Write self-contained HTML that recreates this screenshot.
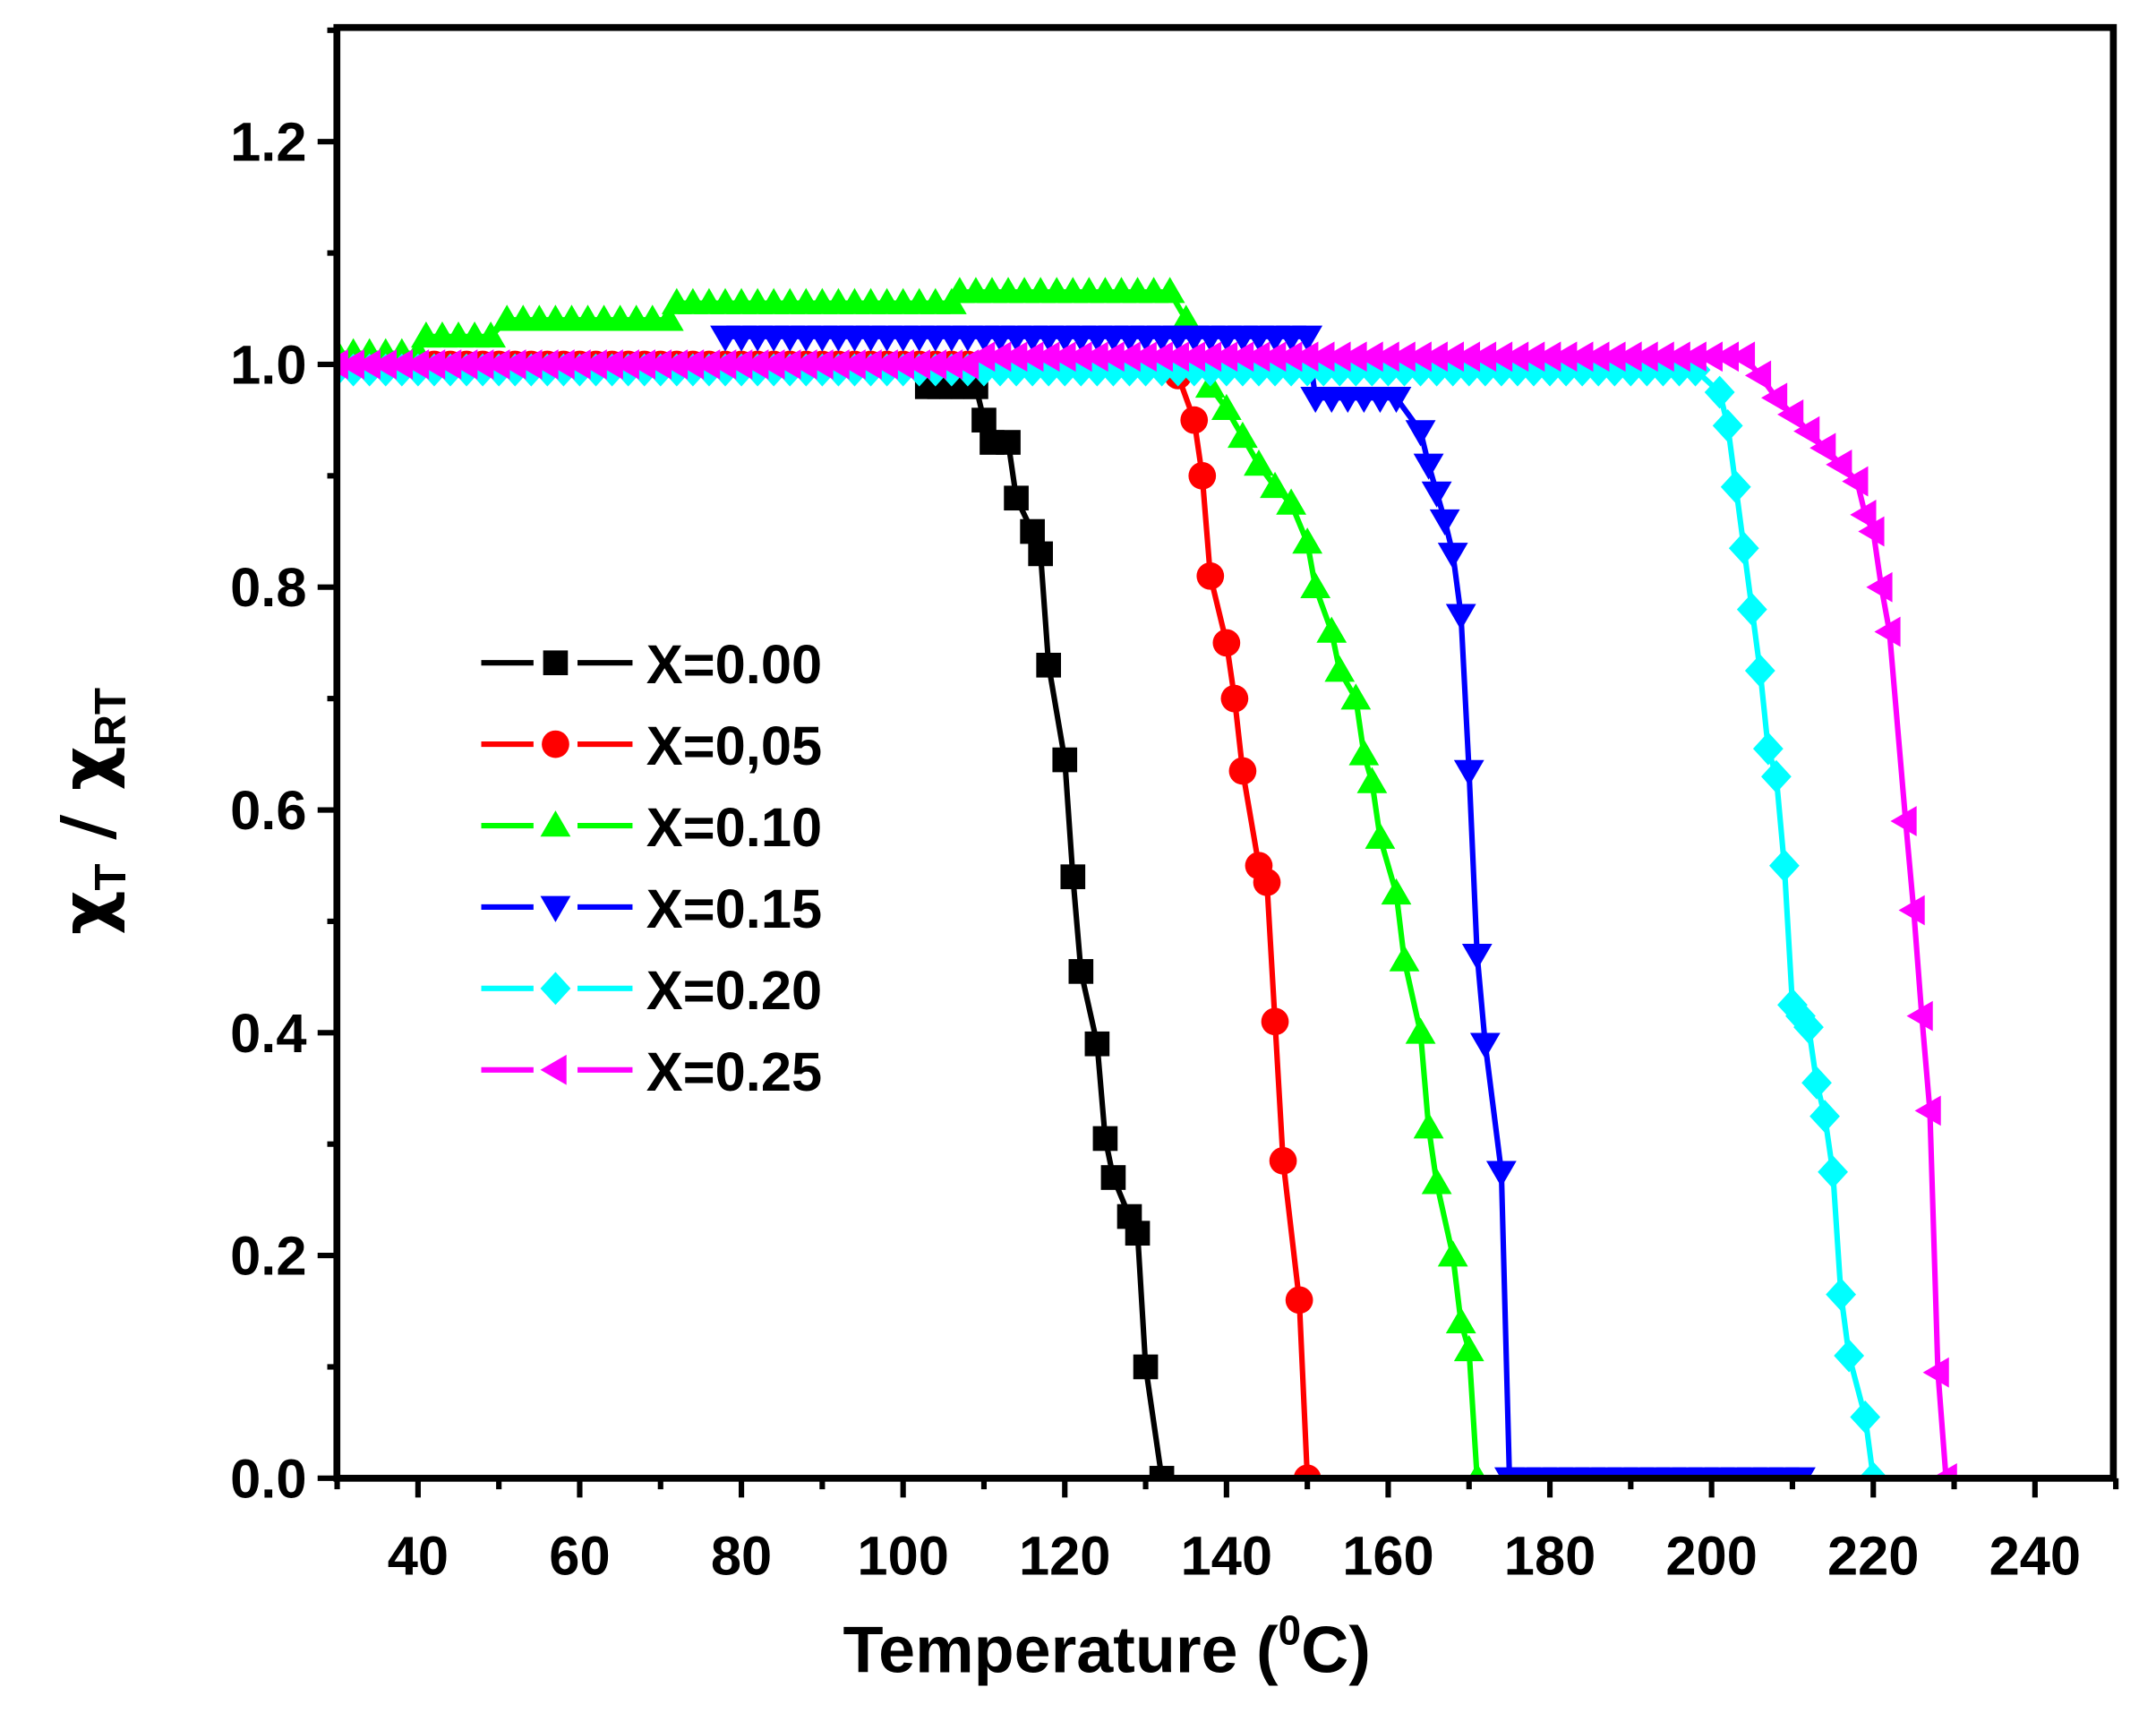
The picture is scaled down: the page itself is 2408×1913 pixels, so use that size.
<!DOCTYPE html>
<html><head><meta charset="utf-8"><style>body{margin:0;background:#fff}svg{display:block}</style></head>
<body>
<svg id="s" xmlns="http://www.w3.org/2000/svg" width="2408" height="1913" viewBox="0 0 1568 1245.7" font-family="Liberation Sans, sans-serif" font-weight="bold"></svg>
<script>
const s=document.getElementById('s');let h='';
const X=t=>304+(t-40)*5.88, Y=v=>1075-v*810;
function flat(a,b,v,st){const r=[];for(let t=a;t<=b+1e-6;t+=st)r.push([t,v]);return r;}
const D=[
{c:'#000',m:'sq',d:[...flat(30,102,1.0,2),...flat(103,109,0.98,1.5),[110,0.95],[111,0.93],[113,0.93],[114,0.88],[116,0.85],[117,0.83],[118,0.73],[120,0.645],[121,0.54],[122,0.455],[124,0.39],[125,0.305],[126,0.27],[128,0.235],[129,0.22],[130,0.10],[132,0.0]]},
{c:'#f00',m:'ci',d:[...flat(30,133,1.0,2),[134,0.99],[136,0.95],[137,0.90],[138,0.81],[140,0.75],[141,0.70],[142,0.635],[144,0.55],[145,0.535],[146,0.41],[147,0.285],[149,0.16],[150,0.0]]},
{c:'#0f0',m:'tu',d:[...flat(30,40,1.01,2),...flat(41,50,1.025,2),...flat(51,71,1.04,2),...flat(72,106,1.055,2),...flat(107,134,1.065,2),[135,1.04],[138,0.98],[140,0.96],[142,0.935],[144,0.91],[146,0.89],[148,0.875],[150,0.84],[151,0.80],[153,0.76],[154,0.725],[156,0.70],[157,0.65],[158,0.625],[159,0.575],[161,0.525],[162,0.465],[164,0.40],[165,0.315],[166,0.265],[168,0.20],[169,0.14],[170,0.115],[171,0.0]]},
{c:'#00f',m:'td',d:[...flat(78,150,1.025,2),...flat(151,162,0.97,2),[164,0.94],[165,0.91],[166,0.885],[167,0.86],[168,0.83],[169,0.775],[170,0.635],[171,0.47],[172,0.39],[174,0.275],[175,0.0],...flat(177,212,0,2)]},
{c:'#0ff',m:'di',d:[...flat(30,199,0.995,2),[201,0.975],[202,0.945],[203,0.89],[204,0.835],[205,0.78],[206,0.725],[207,0.655],[208,0.63],[209,0.55],[210,0.425],[211,0.415],[212,0.405],[213,0.355],[214,0.325],[215,0.275],[216,0.165],[217,0.11],[219,0.055],[220,0.0]]},
{c:'#f0f',m:'tl',d:[...flat(30,109,1.0,2),...flat(110,204,1.007,2),[206,0.99],[208,0.97],[210,0.955],[212,0.94],[214,0.925],[216,0.91],[218,0.895],[219,0.865],[220,0.85],[221,0.80],[222,0.76],[224,0.59],[225,0.51],[226,0.415],[227,0.33],[228,0.095],[229,0.0]]}
];
function mk(m,x,y,c){const r=10;
 if(m=='sq')return `<rect x="${x-9}" y="${y-9}" width="18" height="18" fill="${c}"/>`;
 if(m=='ci')return `<circle cx="${x}" cy="${y}" r="${r}" fill="${c}"/>`;
 if(m=='tu')return `<polygon points="${x},${y-11} ${x+11},${y+8} ${x-11},${y+8}" fill="${c}"/>`;
 if(m=='td')return `<polygon points="${x},${y+11} ${x+11},${y-8} ${x-11},${y-8}" fill="${c}"/>`;
 if(m=='di')return `<polygon points="${x},${y-12} ${x+11},${y} ${x},${y+12} ${x-11},${y}" fill="${c}"/>`;
 if(m=='tl')return `<polygon points="${x-11},${y} ${x+8},${y-11} ${x+8},${y+11}" fill="${c}"/>`;}
h+='<defs><clipPath id="cp"><rect x="245" y="20" width="1292" height="1055"/></clipPath></defs><g clip-path="url(#cp)">';
for(const s2 of D){h+=`<polyline fill="none" stroke="${s2.c}" stroke-width="4" points="${s2.d.map(p=>X(p[0])+','+Y(p[1])).join(' ')}"/>`;
 for(const p of s2.d)h+=mk(s2.m,X(p[0]),Y(p[1]),s2.c);}
h+='</g>';
h+='<rect x="245" y="20" width="1292" height="1055" fill="none" stroke="#000" stroke-width="5"/>';
for(let t=30;t<=250;t+=10){const x=X(t);const maj=t%20==0;h+=`<line x1="${x}" y1="1075" x2="${x}" y2="${maj?1089:1083}" stroke="#000" stroke-width="4"/>`;
 if(maj&&t>=40&&t<=240)h+=`<text x="${x}" y="1145" font-size="40" text-anchor="middle">${t}</text>`;}
for(let i=0;i<=13;i++){const v=i/10,y=Y(v);const maj=i%2==0;h+=`<line x1="245" y1="${y}" x2="${maj?231:238}" y2="${y}" stroke="#000" stroke-width="4"/>`;
 if(maj&&i<=12)h+=`<text x="223" y="${y+14}" font-size="40" text-anchor="end">${v.toFixed(1)}</text>`;}
h+='<text x="805" y="1216" font-size="48" text-anchor="middle">Temperature (<tspan font-size="30" dy="-20">0</tspan><tspan dy="20">C)</tspan></text>';
h+='<text transform="translate(80,590) rotate(-90)" font-size="50" text-anchor="middle" font-family="DejaVu Sans, sans-serif">χ<tspan font-size="32" dy="11" font-family="Liberation Sans">T</tspan><tspan dy="-11"> / χ</tspan><tspan font-size="32" dy="11" font-family="Liberation Sans">RT</tspan></text>';
const L=['X=0.00','X=0,05','X=0.10','X=0.15','X=0.20','X=0.25'];
L.forEach((l,i)=>{const y=482+i*59.2,c=D[i].c;h+=`<line x1="350" y1="${y}" x2="388" y2="${y}" stroke="${c}" stroke-width="4"/><line x1="420" y1="${y}" x2="460" y2="${y}" stroke="${c}" stroke-width="4"/>`+mk(D[i].m,404,y,c)+`<text x="470" y="${y+15}" font-size="40">${l}</text>`;});
s.innerHTML=h;
</script>
</body></html>
